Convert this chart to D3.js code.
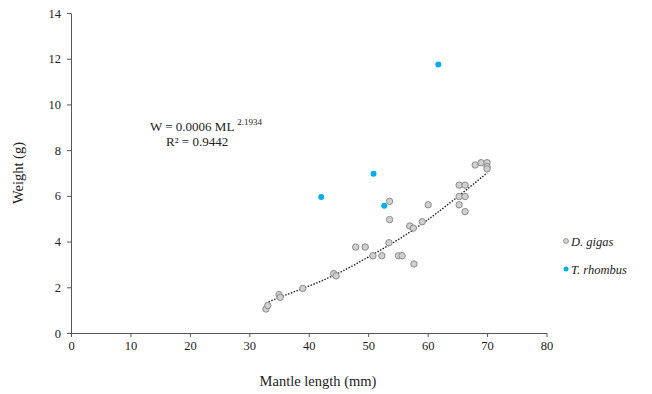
<!DOCTYPE html>
<html><head><meta charset="utf-8">
<script src="https://cdn.jsdelivr.net/npm/d3@7/dist/d3.min.js"></script>
<style>body{margin:0;background:#fff}svg{display:block}text{font-family:"Liberation Serif","Times New Roman",serif;fill:#222}</style>
</head><body>
<script>
const xTicks = [0,10,20,30,40,50,60,70,80];
const yTicks = [0,2,4,6,8,10,12,14];
const gigasML = [32.8,33.1,35.0,35.2,39.0,44.2,44.6,47.9,49.5,50.8,52.3,53.5,53.6,53.6,55.1,55.7,57.7,57.0,57.6,59.1,60.1,65.3,66.3,65.3,66.3,65.3,66.3,68.0,69.0,70.0,70.0,70.0];
const gigasW  = [1.05,1.2,1.68,1.56,1.95,2.6,2.5,3.76,3.76,3.38,3.38,3.95,4.96,5.76,3.38,3.38,3.02,4.68,4.59,4.87,5.61,6.47,6.47,5.97,5.97,5.61,5.31,7.35,7.45,7.45,7.28,7.18];
const rhombusML = [42.1,50.9,52.7,61.8];
const rhombusW  = [5.95,6.97,5.57,11.75];
const trendML = [32.8,35,40,45,50,55,60,65,70];
const trendW  = [1.3,1.55,2.05,2.62,3.32,4.08,4.95,5.95,7.0];

const W=652,H=394;
const svg=d3.select("body").append("svg").attr("width",W).attr("height",H);
const x=d3.scaleLinear().domain([0,80]).range([71,546.5]);
const y=d3.scaleLinear().domain([0,14]).range([333,13]);

const xa=svg.append("g").attr("transform","translate(0,333)").call(d3.axisBottom(x).tickValues(xTicks).tickSize(4).tickSizeOuter(0).tickPadding(4));
const ya=svg.append("g").attr("transform","translate(71,0)").call(d3.axisLeft(y).tickValues(yTicks).tickSize(4).tickSizeOuter(0).tickPadding(6));
[xa,ya].forEach(g=>{g.select(".domain").attr("stroke","#555");g.selectAll(".tick line").attr("stroke","#555");g.selectAll("text").attr("font-size",12.5).attr("fill","#222").attr("font-family","Liberation Serif");});

const line=d3.line().x(d=>x(d[0])).y(d=>y(d[1])).curve(d3.curveNatural);
svg.append("path").datum(trendML.map((v,i)=>[v,trendW[i]])).attr("d",line).attr("fill","none").attr("stroke","#222").attr("stroke-width",1.4).attr("stroke-dasharray","1.5,1.5");

svg.append("g").selectAll("circle").data(gigasML.map((v,i)=>[v,gigasW[i]])).join("circle")
 .attr("cx",d=>x(d[0])).attr("cy",d=>y(d[1])).attr("r",3.2).attr("fill","#d0d0d0").attr("stroke","#8c8c8c").attr("stroke-width",1);
svg.append("g").selectAll("circle").data(rhombusML.map((v,i)=>[v,rhombusW[i]])).join("circle")
 .attr("cx",d=>x(d[0])).attr("cy",d=>y(d[1])).attr("r",3).attr("fill","#00aeef");

svg.append("text").attr("transform","translate(23,173) rotate(-90)").attr("text-anchor","middle").attr("font-size",14.5).text("Weight (g)");
svg.append("text").attr("x",318).attr("y",386).attr("text-anchor","middle").attr("font-size",14.5).text("Mantle length (mm)");

const eq=svg.append("text").attr("x",150).attr("y",131).attr("font-size",13);
eq.append("tspan").text("W = 0.0006 ML ");
eq.append("tspan").attr("font-size",9).attr("dy",-6).text("2.1934");
svg.append("text").attr("x",166).attr("y",146).attr("font-size",13).text("R² = 0.9442");

svg.append("circle").attr("cx",566).attr("cy",241).attr("r",2.5).attr("fill","#d0d0d0").attr("stroke","#8c8c8c").attr("stroke-width",0.8);
svg.append("text").attr("x",571).attr("y",245.5).attr("font-size",12.5).attr("font-style","italic").text("D. gigas");
svg.append("circle").attr("cx",566).attr("cy",269).attr("r",2.5).attr("fill","#00aeef");
svg.append("text").attr("x",571).attr("y",273.5).attr("font-size",12.5).attr("font-style","italic").text("T. rhombus");
</script>
</body></html>
